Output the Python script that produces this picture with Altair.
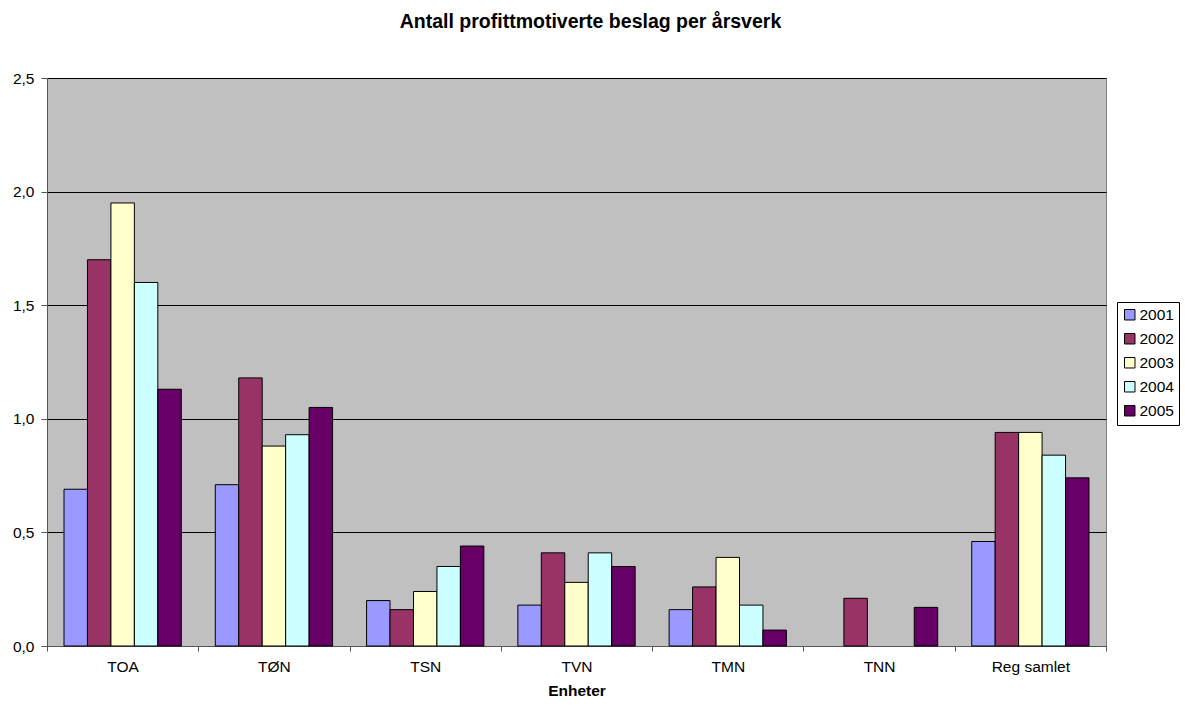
import altair as alt
import pandas as pd

# Units and yearly values (seizures per man-year)
units = ["TOA", "TØN", "TSN", "TVN", "TMN", "TNN", "Reg samlet"]
years = ["2001", "2002", "2003", "2004", "2005"]
v2001 = [0.69, 0.71, 0.20, 0.18, 0.16, None, 0.46]
v2002 = [1.70, 1.18, 0.16, 0.41, 0.26, 0.21, 0.94]
v2003 = [1.95, 0.88, 0.24, 0.28, 0.39, None, 0.94]
v2004 = [1.60, 0.93, 0.35, 0.41, 0.18, None, 0.84]
v2005 = [1.13, 1.05, 0.44, 0.35, 0.07, 0.17, 0.74]
colors = ["#9999FF", "#993366", "#FFFFCC", "#CCFFFF", "#660066"]

rows = []
for year, series in zip(years, [v2001, v2002, v2003, v2004, v2005]):
    for unit, val in zip(units, series):
        if val is not None:
            rows.append({"Enhet": unit, "År": year, "Verdi": val})
df = pd.DataFrame(rows)

FONT = "Liberation Sans"

chart = alt.Chart(df).mark_bar(stroke="black", strokeWidth=1).encode(
    x=alt.X("Enhet:N", sort=units,
            scale=alt.Scale(paddingInner=0, paddingOuter=0),
            axis=alt.Axis(title="Enheter", labelAngle=0, tickBand="extent",
                          labelFontSize=15.5, labelPadding=8, titleFontSize=15.5,
                          titleFontWeight="bold", titlePadding=9,
                          domainColor="#555555", tickColor="#555555", tickSize=5)),
    xOffset=alt.XOffset("År:N", sort=years,
                        scale=alt.Scale(paddingInner=0, paddingOuter=0.725)),
    y=alt.Y("Verdi:Q", scale=alt.Scale(domain=[0, 2.5]),
            axis=alt.Axis(title=None, values=[0, 0.5, 1.0, 1.5, 2.0, 2.5],
                          labelExpr="replace(format(datum.value, '.1f'), '.', ',')",
                          labelFontSize=15.5, labelPadding=7,
                          gridColor="black", gridWidth=1,
                          domainColor="#555555", tickColor="#555555", tickSize=6)),
    color=alt.Color("År:N", sort=years,
                    scale=alt.Scale(domain=years, range=colors),
                    legend=alt.Legend(title=None, orient="none", legendX=1070, legendY=224,
                                      symbolType="square", symbolSize=110,
                                      symbolStrokeColor="black", symbolStrokeWidth=1,
                                      labelFontSize=15.5, rowPadding=7, labelOffset=2,
                                      padding=5, strokeColor="black", fillColor="white")),
).properties(
    width=1059,
    height=568,
    title=alt.TitleParams("Antall profittmotiverte beslag per årsverk",
                          fontSize=19.5, fontWeight="bold", anchor="middle",
                          offset=39, dx=14),
    padding={"left": 47, "top": 78, "right": 79, "bottom": 60},
    autosize="none",
).configure(
    font=FONT,
).configure_view(
    fill="#C0C0C0", stroke="#808080", strokeWidth=1,
).configure_axis(
    labelColor="black", titleColor="black", labelFont=FONT, titleFont=FONT,
).configure_axisX(grid=False)

chart.save("out.html", embed_options={"renderer": "svg", "actions": False})
